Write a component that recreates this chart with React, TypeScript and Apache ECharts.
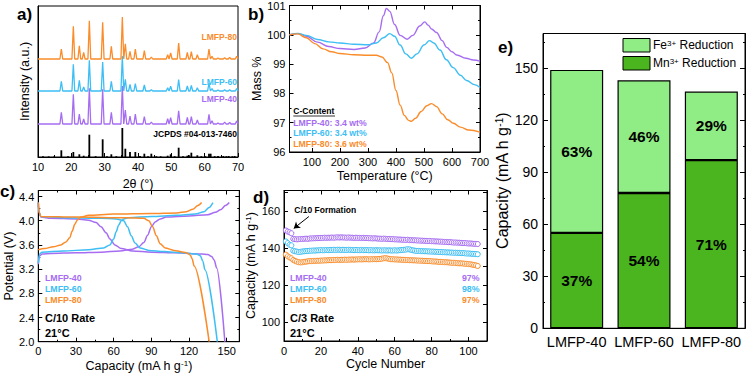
import React, { useEffect, useRef } from 'react';
import * as echarts from 'echarts';

const FONT = '"Liberation Sans", Arial, Helvetica, sans-serif';
const PURPLE = '#A66DF2';
const BLUE = '#3DBEF4';
const ORANGE = '#FA8C2B';
const FE_GREEN = '#90EC84';
const MN_GREEN = '#4BB51F';

// ---------- a) XRD ----------
const xrdOffsets = { l80: 98, l60: 66, l40: 33 };
const xrd80 = [[17.0,10],[20.6,32.7],[22.4,13.3],[23.7,6.7],[25.4,38.3],[29.4,36.7],[32.0,12.7],[35.3,42],[36.2,15.3],[37.6,7.7],[39.2,10],[41.9,8.3],[44.0,2],[48.9,4.3],[49.8,6],[52.2,16],[54.8,6.7],[56.0,7.3],[57.8,4.3],[61.3,10],[62.2,2.7],[64.0,1],[66.0,1.3],[67.5,1.7],[69.6,2.7]];
const xrd60 = [[17.0,9.7],[20.6,26.7],[22.4,10.7],[23.7,4],[25.4,30.7],[29.4,29],[32.0,9.7],[35.3,35],[36.2,11.7],[37.6,6.7],[39.2,7.3],[41.9,6],[44.0,1.3],[48.9,3.3],[49.8,4.7],[52.2,11.3],[54.8,5],[56.0,5.7],[57.8,3.3],[61.3,8],[62.2,2.3],[64.0,1],[66.0,1.3],[67.5,1.3],[69.6,2.3]];
const xrd40 = [[17.0,11.7],[20.6,29.7],[22.4,10],[23.7,5],[25.4,35.7],[29.4,34.7],[32.0,11.7],[35.3,38],[36.2,14],[37.6,8],[39.2,10],[41.9,7.3],[44.0,2],[48.9,5.3],[49.8,6.3],[52.2,13.3],[54.8,6.7],[56.0,7.3],[57.8,4],[61.3,9.7],[62.2,3.3],[64.0,1],[66.0,2],[67.5,1.7],[69.6,3]];
const jcpds = [[11.5,0.7],[13.2,0.6],[14.8,0.6],[17.0,6.7],[19.0,0.7],[20.6,5],[22.4,2.7],[23.7,1.3],[25.4,22.3],[27.3,0.8],[29.4,17.7],[30.7,0.8],[32.0,2.7],[33.5,0.8],[35.3,29],[36.2,8.3],[37.6,5],[39.2,5],[40.6,1],[41.9,3.3],[43.0,0.8],[44.0,3.3],[45.5,0.8],[46.8,0.7],[48.9,1.3],[49.8,2.7],[51.0,0.8],[52.2,9.3],[53.5,0.8],[54.8,1.3],[55.3,1.7],[56.0,4.3],[57.8,1.7],[59.0,0.8],[60.2,0.8],[61.3,3.3],[61.8,3.3],[63.0,0.8],[64.0,1],[65.6,1],[66.5,0.8],[67.2,1],[68.3,0.8],[69.0,1]];

// ---------- b) TGA ----------
const tga40 = [[20,100.0],[50,100.04],[80,99.95],[120,99.75],[160,99.6],[200,99.53],[250,99.5],[290,99.55],[320,99.72],[340,100.1],[355,100.65],[366,100.9],[378,100.8],[395,100.35],[415,99.98],[440,99.85],[460,99.98],[485,100.3],[503,100.44],[515,100.33],[527,100.2],[545,100.08],[565,99.8],[581,99.57],[600,99.42],[617,99.31],[650,99.2],[676,99.14],[700,99.1]];
const tga60 = [[20,100.0],[50,100.05],[80,99.98],[120,99.84],[160,99.76],[200,99.72],[250,99.68],[300,99.66],[330,99.72],[355,99.9],[378,100.04],[395,99.95],[415,99.65],[435,99.35],[455,99.2],[475,99.35],[500,99.65],[520,99.8],[535,99.72],[557,99.48],[580,99.15],[604,98.88],[630,98.62],[652,98.44],[680,98.3],[700,98.2]];
const tga80 = [[20,100.0],[50,100.03],[80,99.9],[110,99.7],[140,99.52],[170,99.42],[200,99.36],[250,99.32],[300,99.3],[330,99.3],[350,99.24],[370,99.05],[385,98.7],[400,98.1],[415,97.6],[430,97.25],[445,97.08],[455,97.05],[470,97.15],[490,97.38],[510,97.58],[527,97.65],[545,97.55],[565,97.3],[585,97.1],[605,96.98],[630,96.85],[660,96.75],[700,96.68]];

// ---------- c) Charge / discharge ----------
const chg40 = [[0,3.28],[1,3.42],[3,3.45],[10,3.46],[30,3.47],[50,3.48],[65,3.5],[75,3.53],[80,3.57],[84,3.64],[87,3.76],[90,3.9],[93,3.98],[97,4.03],[102,4.06],[120,4.08],[135,4.1],[141,4.14],[145,4.18],[149,4.25],[152,4.3]];
const dis40 = [[0,4.3],[0.5,4.15],[2,4.06],[10,4.04],[30,4.03],[40,4.01],[46,3.97],[50,3.9],[54,3.8],[57,3.7],[61,3.6],[66,3.54],[75,3.5],[90,3.48],[110,3.47],[130,3.45],[135,3.44],[138,3.41],[140,3.35],[142,3.22],[148.5,2.0]];
const chg60 = [[0,3.3],[1,3.45],[3,3.48],[20,3.5],[40,3.52],[52,3.55],[57,3.6],[60,3.7],[62,3.82],[64,3.93],[66,4.0],[68,4.03],[72,4.05],[90,4.07],[110,4.09],[125,4.11],[132,4.15],[136,4.22],[139,4.3]];
const dis60 = [[0,4.3],[0.5,4.15],[2,4.07],[20,4.05],[50,4.04],[62,4.03],[68,4.0],[71,3.9],[74,3.75],[77,3.63],[81,3.55],[88,3.51],[100,3.49],[115,3.47],[126,3.45],[129,3.42],[131,3.33],[132.6,3.19],[142.5,2.0]];
const chg80 = [[0,3.52],[5,3.54],[12,3.57],[18,3.6],[22,3.65],[25,3.72],[27,3.83],[29,3.94],[31,4.01],[34,4.06],[40,4.09],[60,4.11],[90,4.12],[110,4.13],[118,4.15],[123,4.19],[127,4.25],[130,4.3]];
const dis80 = [[0,4.3],[0.5,4.15],[2,4.07],[30,4.06],[70,4.05],[84,4.04],[88,4.0],[91,3.9],[94,3.75],[97,3.62],[101,3.55],[108,3.51],[116,3.48],[119,3.46],[121,3.43],[122.5,3.37],[124,3.25],[136,2.0]];

// ---------- d) Cycling ----------
const form40 = [149.5, 148.9, 148.5, 148.0];
const form60 = [143.6, 142.7, 141.8, 141.5];
const form80 = [136.5, 135.6, 135.0, 134.5];
const cyc40 = [145.0,144.8,144.7,144.8,144.9,144.9,145.0,145.1,145.0,145.2,
145.2,145.3,145.3,145.4,145.4,145.5,145.5,145.6,145.5,145.6,
145.6,145.7,145.6,145.7,145.8,145.7,145.8,145.7,145.7,145.6,
145.7,145.6,145.6,145.5,145.6,145.5,145.5,145.4,145.5,145.4,
145.4,145.3,145.3,145.2,145.3,145.2,145.1,145.1,145.0,145.1,
145.0,144.9,144.9,144.8,144.8,144.7,144.7,144.6,144.6,144.5,
144.5,144.4,144.5,144.3,144.3,144.2,144.2,144.1,144.1,144.0,
144.0,143.9,143.9,143.8,143.8,143.7,143.7,143.6,143.6,143.5,
143.5,143.4,143.3,143.3,143.2,143.2,143.1,143.0,143.0,142.9,
142.9,142.8,142.7,142.7,142.6,142.5,142.5,142.4,142.3,142.3,
142.2];
const cyc60 = [138.6,138.3,138.1,137.9,138.0,138.2,138.3,138.4,138.5,138.6,
138.6,138.7,138.7,138.8,138.8,138.9,138.8,138.9,139.0,138.9,
139.0,139.0,139.1,139.0,139.1,139.1,139.0,139.1,139.0,139.0,
139.1,139.0,139.0,138.9,139.0,138.9,138.9,139.0,138.9,138.9,
138.9,138.8,138.9,138.8,138.8,138.9,138.8,138.8,138.7,138.8,
138.8,138.7,138.8,138.7,138.7,138.8,138.7,138.8,138.9,139.0,
139.1,139.2,139.4,139.3,139.0,138.8,138.6,138.5,138.5,138.4,
138.4,138.3,138.3,138.2,138.2,138.1,138.1,138.0,138.0,137.9,
137.9,137.8,137.8,137.7,137.7,137.6,137.6,137.5,137.5,137.4,
137.4,137.3,137.3,137.2,137.1,137.1,137.0,136.9,136.9,136.8,
136.7];
const cyc80 = [133.6,133.1,132.7,132.4,132.3,132.4,132.6,132.7,132.9,133.0,
133.0,133.1,133.1,133.2,133.2,133.3,133.3,133.4,133.4,133.5,
133.5,133.5,133.6,133.6,133.7,133.6,133.7,133.7,133.8,133.7,
133.8,133.8,133.9,133.8,133.9,133.9,134.0,133.9,134.0,134.0,
134.0,133.9,134.0,134.0,134.1,134.0,134.1,134.2,134.3,134.5,
134.6,134.4,134.2,134.0,134.0,133.9,133.9,133.8,133.8,133.7,
133.7,133.6,133.6,133.5,133.5,133.4,133.4,133.3,133.3,133.2,
133.2,133.1,133.1,133.0,133.0,132.9,132.8,132.8,132.7,132.6,
132.6,132.5,132.4,132.4,132.3,132.2,132.1,132.1,132.0,131.9,
131.8,131.8,131.7,131.6,131.5,131.4,131.3,131.1,130.9,130.7,
130.4];
const retention = ['97%', '98%', '97%'];

// ---------- e) Stacked capacity ----------
const samples = ['LMFP-40', 'LMFP-60', 'LMFP-80'];
const mnCap = [55, 78, 97];
const feCap = [94, 65, 39.5];
const mnPct = ['37%', '54%', '71%'];
const fePct = ['63%', '46%', '29%'];

function peaksToLine(peaks: number[][], base: number) {
  const pts: number[][] = [[10, base]];
  peaks.forEach(([p, h]) => {
    pts.push([p - 0.42, base], [p, base + h], [p + 0.42, base]);
  });
  pts.push([70, base]);
  return pts;
}
function cycleSeries(form: number[], main: number[]) {
  return form.map((v, i) => [i + 1, v]).concat(main.map((v, i) => [i + 5, v]));
}

const tick = { color: '#000', width: 1 };
function richSup(size: number) {
  return { sup: { fontSize: Math.round(size * 0.65), verticalAlign: 'top', padding: [0, 0, Math.round(size * 0.35), 0], fontFamily: FONT, color: '#000' } };
}
function vAxis(o: any) {
  const size = o.nameSize || 12.5;
  return {
    type: 'value',
    gridIndex: o.grid,
    position: o.pos,
    min: o.min,
    max: o.max,
    interval: o.interval,
    axisLine: { show: true, onZero: false, lineStyle: { color: '#000', width: 1 } },
    axisTick: { show: o.ticks !== false, inside: true, length: o.tickLen || 4, lineStyle: tick, customValues: o.tickValues },
    minorTick: { show: !!o.minor, splitNumber: o.minor || 2, length: 2, lineStyle: tick },
    splitLine: { show: false },
    axisLabel: { show: !!o.labels, color: '#000', fontSize: o.fontSize || 11, fontFamily: FONT, margin: o.margin || 4, formatter: o.fmt, customValues: o.labelValues },
    name: o.name,
    nameLocation: 'middle',
    nameGap: o.nameGap,
    nameTextStyle: { color: '#000', fontSize: size, fontFamily: FONT, rich: richSup(size) },
  };
}
function txt(text: string, x: number, y: number, color = '#000', size = 8.5, align = 'left', weight = 'bold') {
  return {
    type: 'text', x, y, silent: true,
    style: { text, fill: color, font: `${weight} ${size}px ${FONT}`, align, verticalAlign: 'middle', textAlign: align, textVerticalAlign: 'middle' },
  };
}

function buildOption(): any {
  const grids = [
    { left: 38, top: 6, width: 200, height: 151 },
    { left: 289.5, top: 5, width: 190.5, height: 147 },
    { left: 38.3, top: 190.5, width: 201, height: 151.2 },
    { left: 284, top: 190.5, width: 203, height: 150.5 },
    { left: 543, top: 33.5, width: 202, height: 294.8 },
  ].map((g) => ({ ...g, show: true, borderColor: '#000', borderWidth: 1, backgroundColor: 'transparent', containLabel: false }));

  const xAxis = [
    vAxis({ grid: 0, pos: 'bottom', min: 10, max: 70, interval: 10, labels: true, minor: 2, name: '2θ (°)', nameGap: 20 }),
    vAxis({ grid: 1, pos: 'bottom', min: 20, max: 700, labels: true, tickValues: [100, 200, 300, 400, 500, 600, 700], labelValues: [100, 200, 300, 400, 500, 600, 700], name: 'Temperature (°C)', nameGap: 17 }),
    vAxis({ grid: 1, pos: 'top', min: 20, max: 700, labels: false, tickValues: [100, 200, 300, 400, 500, 600, 700] }),
    vAxis({ grid: 2, pos: 'bottom', min: 0, max: 160, interval: 30, labels: true, minor: 2, fmt: (v: number) => (v % 30 === 0 ? String(v) : ''), name: 'Capacity (mA h g{sup|-1})', nameGap: 18 }),
    vAxis({ grid: 2, pos: 'top', min: 0, max: 160, interval: 30, labels: false, minor: 2 }),
    vAxis({ grid: 3, pos: 'bottom', min: 0, max: 110, interval: 20, labels: true, minor: 2, fmt: (v: number) => (v % 20 === 0 && v <= 100 ? String(v) : ''), name: 'Cycle Number', nameGap: 16 }),
    vAxis({ grid: 3, pos: 'top', min: 0, max: 110, interval: 20, labels: false, minor: 2 }),
    {
      type: 'category', gridIndex: 4, data: samples,
      axisLine: { show: true, lineStyle: { color: '#000', width: 1 } },
      axisTick: { show: false },
      axisLabel: { color: '#000', fontSize: 14.5, fontFamily: FONT, margin: 6, interval: 0, hideOverlap: false },
    },
  ];
  const yAxis = [
    vAxis({ grid: 0, pos: 'left', min: 0, max: 151, ticks: false, labels: false, name: 'Intensity (a.u.)', nameGap: 7 }),
    vAxis({ grid: 1, pos: 'left', min: 96, max: 101, interval: 1, labels: true, minor: 2, name: 'Mass %', nameGap: 23 }),
    vAxis({ grid: 1, pos: 'right', min: 96, max: 101, interval: 1, labels: false, minor: 2 }),
    vAxis({ grid: 2, pos: 'left', min: 2.0, max: 4.5, interval: 0.4, labels: true, minor: 2, fmt: (v: number) => (v < 4.45 ? v.toFixed(1) : ''), name: 'Potential (V)', nameGap: 22 }),
    vAxis({ grid: 2, pos: 'right', min: 2.0, max: 4.5, interval: 0.4, labels: false, minor: 2 }),
    vAxis({ grid: 3, pos: 'left', min: 90, max: 171, interval: 10, labels: true, fmt: (v: number) => (v % 20 === 0 && v >= 100 && v <= 160 ? String(v) : ''), name: 'Capacity (mA h g{sup|-1})', nameGap: 21 }),
    vAxis({ grid: 3, pos: 'right', min: 90, max: 171, interval: 10, labels: false }),
    vAxis({ grid: 4, pos: 'left', min: 0, max: 170, interval: 30, labels: true, minor: 2, tickLen: 5, fontSize: 14, margin: 5, fmt: (v: number) => (v % 30 === 0 ? String(v) : ''), name: 'Capacity (mA h g{sup|-1})', nameSize: 16, nameGap: 27 }),
    vAxis({ grid: 4, pos: 'right', min: 0, max: 170, interval: 30, labels: false, minor: 2, tickLen: 5 }),
  ];

  const line = (xi: number, yi: number, data: any, color: string, width = 1.3, smooth: any = false) => ({
    type: 'line', xAxisIndex: xi, yAxisIndex: yi, data, symbol: 'none', smooth, smoothMonotone: 'x',
    lineStyle: { color, width }, itemStyle: { color }, silent: true,
  });
  const scat = (data: any, color: string, extra: any = {}) => ({
    type: 'line', xAxisIndex: 5, yAxisIndex: 5, data, symbol: 'circle', symbolSize: 5, showSymbol: true,
    lineStyle: { width: 0, opacity: 0 }, itemStyle: { color: '#fff', borderColor: color, borderWidth: 1 }, silent: true, ...extra,
  });

  const series: any[] = [
    line(0, 0, peaksToLine(xrd40, xrdOffsets.l40), PURPLE, 1.3),
    line(0, 0, peaksToLine(xrd60, xrdOffsets.l60), BLUE, 1.3),
    line(0, 0, peaksToLine(xrd80, xrdOffsets.l80), ORANGE, 1.3),
    { type: 'bar', xAxisIndex: 0, yAxisIndex: 0, data: jcpds, barWidth: 1.8, itemStyle: { color: '#000' }, silent: true },

    line(1, 1, tga40, PURPLE, 1.4, 0.4),
    line(1, 1, tga60, BLUE, 1.4, 0.4),
    line(1, 1, tga80, ORANGE, 1.4, 0.4),

    line(3, 3, chg40, PURPLE, 1.5, 0.3),
    line(3, 3, dis40, PURPLE, 1.5, 0.3),
    line(3, 3, chg60, BLUE, 1.5, 0.3),
    line(3, 3, dis60, BLUE, 1.5, 0.3),
    line(3, 3, chg80, ORANGE, 1.5, 0.3),
    line(3, 3, dis80, ORANGE, 1.5, 0.3),

    scat(cycleSeries(form80, cyc80), ORANGE),
    scat(cycleSeries(form60, cyc60), BLUE),
    scat(cycleSeries(form40, cyc40), PURPLE, {
      markLine: {
        silent: true, symbol: ['none', 'arrow'], symbolSize: 6,
        lineStyle: { color: '#000', width: 1, type: 'solid' }, label: { show: false },
        data: [[{ coord: [13.5, 157] }, { coord: [5.3, 150.6] }]],
      },
    }),

    {
      name: 'Mn3+ Reduction', type: 'bar', stack: 'e', xAxisIndex: 7, yAxisIndex: 7, data: mnCap, barWidth: 53,
      itemStyle: { color: MN_GREEN, borderColor: '#000', borderWidth: 1.2 },
      label: { show: true, position: 'inside', formatter: (p: any) => mnPct[p.dataIndex], fontSize: 15.5, fontWeight: 'bold', color: '#000', fontFamily: FONT },
      silent: true,
    },
    {
      name: 'Fe3+ Reduction', type: 'bar', stack: 'e', xAxisIndex: 7, yAxisIndex: 7, data: feCap, barWidth: 53,
      itemStyle: { color: FE_GREEN, borderColor: '#000', borderWidth: 1.2 },
      label: { show: true, position: 'inside', formatter: (p: any) => fePct[p.dataIndex], fontSize: 15.5, fontWeight: 'bold', color: '#000', fontFamily: FONT },
      silent: true,
    },
  ];

  const graphic: any[] = [
    txt('a)', 17, 14, '#000', 17),
    txt('b)', 248, 14, '#000', 17),
    txt('c)', 0, 191, '#000', 17),
    txt('d)', 253, 197, '#000', 17),
    txt('e)', 498, 47, '#000', 17),
    // a
    txt(samples[2], 237, 36.7, ORANGE, 8.5, 'right'),
    txt(samples[1], 237, 82.3, BLUE, 8.5, 'right'),
    txt(samples[0], 237, 99.3, PURPLE, 8.5, 'right'),
    txt('JCPDS #04-013-7460', 237, 134.3, '#000', 8.5, 'right'),
    // b
    txt('C-Content', 293.3, 110.5, '#000', 8.5),
    { type: 'line', silent: true, shape: { x1: 293.3, y1: 116, x2: 335, y2: 116 }, style: { stroke: '#000', lineWidth: 0.8 } },
    txt('LMFP-40: 3.4 wt%', 293.3, 122.7, PURPLE, 8.7),
    txt('LMFP-60: 3.4 wt%', 293.3, 133.3, BLUE, 8.7),
    txt('LMFP-80: 3.6 wt%', 293.3, 144, ORANGE, 8.7),
    // c
    txt(samples[0], 45, 278.3, PURPLE, 8.8),
    txt(samples[1], 45, 289.3, BLUE, 8.8),
    txt(samples[2], 45, 300.3, ORANGE, 8.8),
    txt('C/10 Rate', 45, 318.3, '#000', 11),
    txt('21°C', 45, 332.5, '#000', 11),
    // d
    txt('C/10 Formation', 294.3, 210, '#000', 8.5),
    txt(samples[0], 290, 278.3, PURPLE, 8.8),
    txt(samples[1], 290, 289.3, BLUE, 8.8),
    txt(samples[2], 290, 300.3, ORANGE, 8.8),
    txt(retention[0], 479.5, 278.3, PURPLE, 8.8, 'right'),
    txt(retention[1], 479.5, 289.3, BLUE, 8.8, 'right'),
    txt(retention[2], 479.5, 300.3, ORANGE, 8.8, 'right'),
    txt('C/3 Rate', 290, 318.3, '#000', 11),
    txt('21°C', 290, 333, '#000', 11),
  ];

  return {
    animation: false,
    backgroundColor: '#fff',
    textStyle: { fontFamily: FONT },
    grid: grids,
    xAxis,
    yAxis,
    series,
    graphic,
    legend: {
      data: ['Fe3+ Reduction', 'Mn3+ Reduction'],
      orient: 'vertical', left: 622.5, top: 38, padding: 0,
      itemWidth: 27, itemHeight: 13.5, itemGap: 3.5, icon: 'rect',
      itemStyle: { borderColor: '#000', borderWidth: 1 },
      selectedMode: false,
      formatter: (n: string) => (n.startsWith('Fe') ? 'Fe{sup|3+} Reduction' : 'Mn{sup|3+} Reduction'),
      textStyle: { fontSize: 12, color: '#000', fontFamily: FONT, padding: [0, 0, 0, -2], rich: { sup: { fontSize: 8, verticalAlign: 'top', padding: [0, 0, 4, 0], fontFamily: FONT, color: '#000' } } },
    },
  };
}

export default function App() {
  const ref = useRef<HTMLDivElement>(null);
  useEffect(() => {
    const chart = echarts.init(ref.current!, null, { renderer: 'svg' });
    chart.setOption(buildOption());
    return () => chart.dispose();
  }, []);
  return <div ref={ref} style={{ position: 'absolute', left: 0, top: 0, width: 748, height: 376, background: '#fff' }} />;
}
